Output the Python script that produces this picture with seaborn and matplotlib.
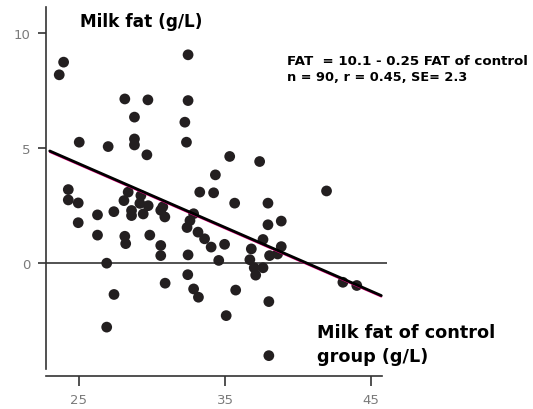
import numpy as np
import pandas as pd
import matplotlib
matplotlib.use("Agg")
import matplotlib.pyplot as plt
import seaborn as sns

# control group milk fat (x) vs milk fat response (y)
control_fat = [
    23.95, 23.65, 28.14, 29.72, 28.8, 25.02, 27.0, 28.8, 28.8, 29.65,
    32.47, 32.47, 32.25, 32.36, 35.32, 37.37, 34.34, 33.27, 34.22, 35.66,
    37.94, 41.95, 37.94, 38.85,
    24.27, 24.27, 24.95, 24.95, 26.27, 26.27, 27.39, 28.14, 28.2, 29.85,
    26.9, 27.4, 26.9,
    28.37, 28.08, 28.6, 28.6, 29.24, 29.17, 29.4, 29.74, 30.6, 30.74, 30.88,
    30.6, 30.6, 30.9, 32.85, 32.6, 32.4, 33.15, 33.6, 34.05, 34.97,
    34.57, 32.47, 32.45, 32.85, 33.18, 35.73, 35.08, 38.0, 38.0,
    37.6, 36.8, 36.7, 37.0, 37.1, 37.6, 38.05, 38.6, 38.85,
    43.07, 44.02,
]
milk_fat = [
    8.74, 8.19, 7.14, 7.10, 6.35, 5.26, 5.07, 5.40, 5.14, 4.71,
    9.06, 7.07, 6.13, 5.26, 4.64, 4.42, 3.84, 3.09, 3.06, 2.61,
    2.61, 3.14, 1.67, 1.83,
    3.20, 2.75, 2.62, 1.76, 2.10, 1.22, 2.24, 1.17, 0.85, 1.22,
    0.0, -1.36, -2.78,
    3.09, 2.72, 2.29, 2.07, 2.94, 2.60, 2.14, 2.50, 2.30, 2.45, 2.01,
    0.77, 0.33, -0.87, 2.15, 1.85, 1.55, 1.35, 1.06, 0.70, 0.82,
    0.12, 0.36, -0.50, -1.12, -1.48, -1.17, -2.28, -1.67, -4.02,
    1.03, 0.62, 0.15, -0.20, -0.52, -0.20, 0.33, 0.40, 0.72,
    -0.83, -0.97,
]

# fitted line as drawn in the figure
fit_x = [23.0, 45.7]
fit_intercept = 11.25
fit_slope = -0.277

x_ticks = [25, 35, 45]
y_ticks = [0, 5, 10]

df = pd.DataFrame({"control": control_fat, "fat": milk_fat})
fit_y = [fit_intercept + fit_slope * v for v in fit_x]

sns.set_style("ticks")
plt.rcParams["font.family"] = ["DejaVu Sans"]

fig = plt.figure(figsize=(5.33, 4.10), dpi=100)
ax = fig.add_axes([0.0863, 0.0976, 0.6398, 0.883])

ax.axhline(0, color="#444444", lw=1.3, zorder=1)
sns.scatterplot(data=df, x="control", y="fat", ax=ax, s=60, color="#231f20",
                edgecolor="none", zorder=3, legend=False)
# pink edge peeking out under the black fit line
ax.plot(fit_x, [v - 0.05 for v in fit_y], color="#e6007e", lw=1.2, zorder=4)
ax.plot(fit_x, fit_y, color="black", lw=2.0, zorder=5)

ax.set_xlim(22.744, 46.09)
ax.set_ylim(-4.6, 11.14)
ax.set_xticks(x_ticks)
ax.set_yticks(y_ticks)
ax.set_xlabel("")
ax.set_ylabel("")

sns.despine(ax=ax)
ax.spines["bottom"].set_position(("outward", 5))
ax.spines["bottom"].set_bounds(22.744, 45.75)
for side in ["left", "bottom"]:
    ax.spines[side].set_color("#333333")
    ax.spines[side].set_linewidth(1.2)
ax.tick_params(axis="x", length=7, width=1.2, color="#333333", pad=5,
               labelsize=9.5, labelcolor="#7a7a7a")
ax.tick_params(axis="y", length=6, width=1.2, color="#333333", pad=5,
               labelsize=9.5, labelcolor="#7a7a7a")

fig.text(0.150, 0.946, "Milk fat (g/L)", fontsize=12.2, fontweight="bold",
         color="black", va="center", ha="left")
fig.text(0.538, 0.849, "FAT  = 10.1 - 0.25 FAT of control", fontsize=9.6,
         fontweight="bold", color="black", va="center", ha="left")
fig.text(0.538, 0.810, "n = 90, r = 0.45, SE= 2.3", fontsize=9.3,
         fontweight="bold", color="black", va="center", ha="left")
fig.text(0.595, 0.188, "Milk fat of control", fontsize=12.7, fontweight="bold",
         color="black", va="center", ha="left")
fig.text(0.595, 0.129, "group (g/L)", fontsize=12.7, fontweight="bold",
         color="black", va="center", ha="left")

fig.savefig("out.png", dpi=100)
